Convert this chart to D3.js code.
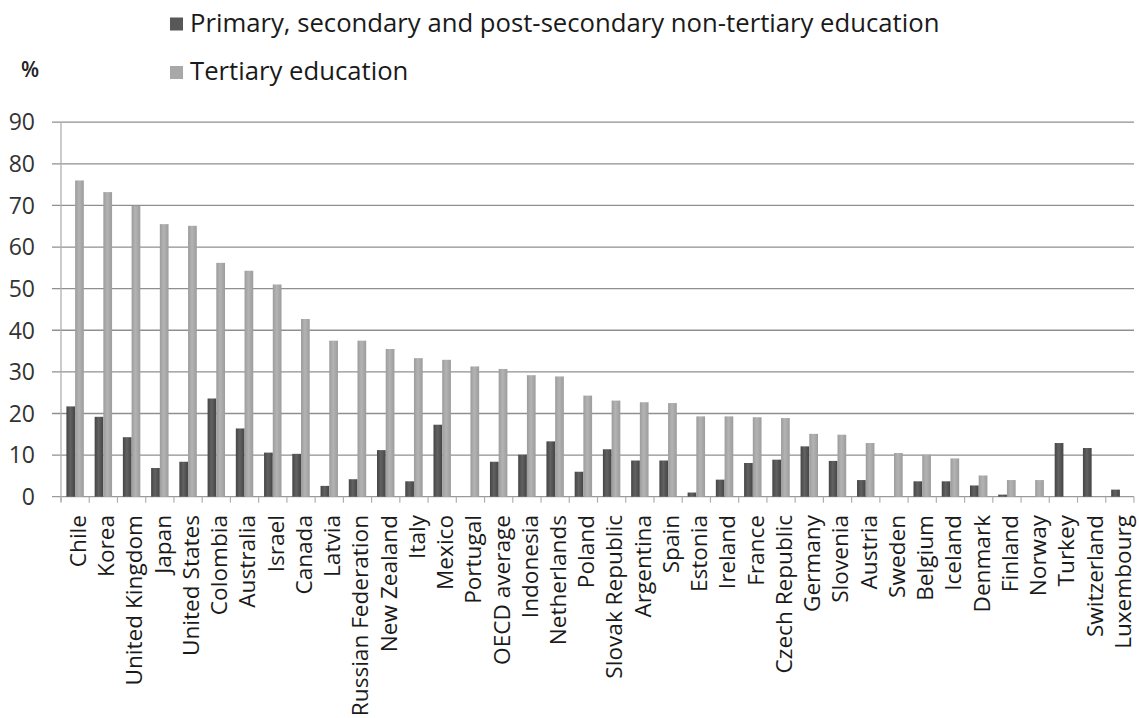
<!DOCTYPE html>
<html>
<head>
<meta charset="utf-8">
<script src="https://cdn.jsdelivr.net/npm/d3@7"></script>
<style>
  html, body { margin: 0; padding: 0; background: #fff; }
  svg { display: block; font-family: "Open Sans", "DejaVu Sans", sans-serif; }
</style>
</head>
<body>
<svg id="chart" width="1139" height="718"></svg>
<script>
const categories = ["Chile","Korea","United Kingdom","Japan","United States","Colombia","Australia","Israel","Canada","Latvia","Russian Federation","New Zealand","Italy","Mexico","Portugal","OECD average","Indonesia","Netherlands","Poland","Slovak Republic","Argentina","Spain","Estonia","Ireland","France","Czech Republic","Germany","Slovenia","Austria","Sweden","Belgium","Iceland","Denmark","Finland","Norway","Turkey","Switzerland","Luxembourg"];
const primaryValues = [21.7,19.2,14.3,6.9,8.4,23.6,16.4,10.6,10.3,2.6,4.2,11.2,3.7,17.3,0,8.4,10.1,13.3,6.0,11.4,8.7,8.7,1.0,4.1,8.1,8.9,12.1,8.6,4.0,0,3.7,3.7,2.7,0.5,0,12.9,11.7,1.7];
const tertiaryValues = [76.0,73.2,69.9,65.5,65.1,56.2,54.3,51.0,42.7,37.5,37.5,35.5,33.3,32.9,31.3,30.7,29.2,28.9,24.3,23.1,22.7,22.5,19.3,19.3,19.1,18.9,15.1,14.9,12.9,10.5,10.1,9.2,5.1,4.0,4.0,0,0,0];
const seriesNames = ["Primary, secondary and post-secondary non-tertiary education","Tertiary education"];
const yTicks = [0,10,20,30,40,50,60,70,80,90];
const unitLabel = "%";

const svg = d3.select("#chart");
const mLeft = 61, mRight = 1134, mTop = 122.2, mBottom = 496.7;

const defs = svg.append("defs");
function grad(id, edge, mid) {
  const g = defs.append("linearGradient").attr("id", id).attr("x1","0").attr("x2","1").attr("y1","0").attr("y2","0");
  g.append("stop").attr("offset","0%").attr("stop-color", edge);
  g.append("stop").attr("offset","45%").attr("stop-color", mid);
  g.append("stop").attr("offset","100%").attr("stop-color", edge);
}
grad("gDark", "#454545", "#626262");
grad("gLight", "#9c9c9c", "#b3b3b3");
const fills = ["url(#gDark)", "url(#gLight)"];
const legendFills = ["#585858", "#a8a8a8"];

const x = d3.scaleBand().domain(categories).range([mLeft, mRight]).padding(0);
const xs = d3.scaleBand().domain([0,1]).range([0, x.bandwidth()]).paddingInner(0).paddingOuter(0.62);
const y = d3.scaleLinear().domain([0, 90]).range([mBottom, mTop]);

// gridlines
svg.append("g").selectAll("line").data(yTicks).join("line")
  .attr("x1", mLeft - 9).attr("x2", mRight)
  .attr("y1", d => y(d)).attr("y2", d => y(d))
  .attr("stroke", d => d === 0 ? "#9a9a9a" : "#8f8f8f").attr("stroke-width", 1.3);

// y axis labels
svg.append("g").selectAll("text").data(yTicks).join("text")
  .attr("x", 35).attr("y", d => y(d)).attr("dy", "0.36em")
  .attr("text-anchor", "end").attr("font-size", 23).attr("fill", "#333")
  .text(d => d);

// y axis line
svg.append("line").attr("x1", mLeft).attr("x2", mLeft).attr("y1", mTop).attr("y2", mBottom + 5)
  .attr("stroke", "#b0b0b0").attr("stroke-width", 1.3);

// x ticks
svg.append("g").selectAll("line").data(categories.concat(["__end"])).join("line")
  .attr("x1", (d,i) => mLeft + i * x.step()).attr("x2", (d,i) => mLeft + i * x.step())
  .attr("y1", mBottom).attr("y2", mBottom + 6)
  .attr("stroke", "#b0b0b0").attr("stroke-width", 1.2);

// bars
const seriesData = [primaryValues, tertiaryValues];
seriesData.forEach((vals, si) => {
  svg.append("g").selectAll("rect").data(vals.map((v,i) => ({c: categories[i], v})).filter(d => d.v > 0)).join("rect")
    .attr("x", d => x(d.c) + xs(si)).attr("width", xs.bandwidth())
    .attr("y", d => y(d.v)).attr("height", d => y(0) - y(d.v))
    .attr("fill", fills[si]);
});

// x labels
svg.append("g").selectAll("text").data(categories).join("text")
  .attr("transform", d => `translate(${x(d) + x.bandwidth()/2},515) rotate(-90)`)
  .attr("dy", "0.48em").attr("text-anchor", "end")
  .attr("font-size", 22.6).attr("fill", "#1a1a1a")
  .text(d => d);

// legend
const legY = [31.5, 80];
seriesNames.forEach((name, i) => {
  svg.append("rect").attr("x", 170).attr("y", legY[i] - 14).attr("width", 13).attr("height", 13).attr("fill", legendFills[i]);
  svg.append("text").attr("x", 190).attr("y", legY[i]).attr("font-size", 25.7).attr("fill", "#1a1a1a").text(name);
});
svg.append("text").attr("x", 21).attr("y", 77).attr("font-size", 21).attr("font-weight", 600).attr("fill", "#222").text(unitLabel);
</script>
</body>
</html>
